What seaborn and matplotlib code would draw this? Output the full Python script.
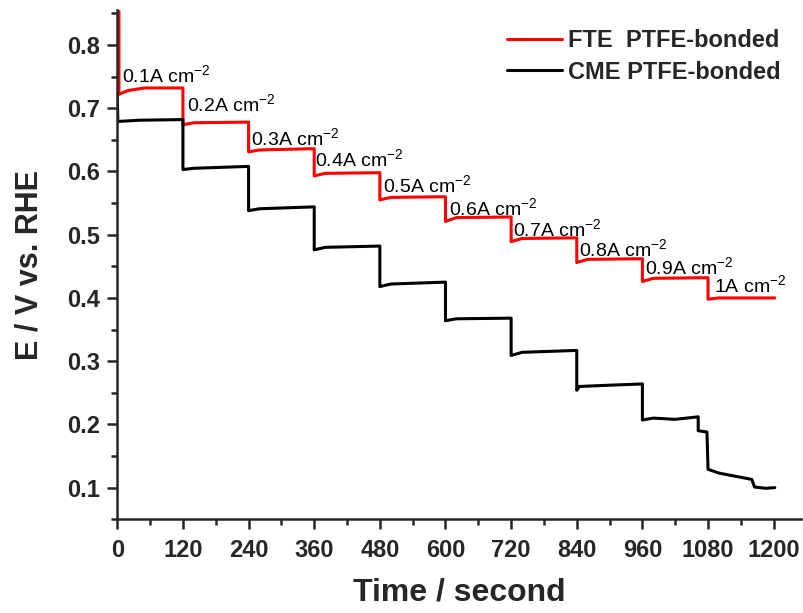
import pandas as pd
import matplotlib
matplotlib.use("Agg")
import matplotlib.pyplot as plt
import seaborn as sns
from matplotlib.ticker import MultipleLocator, FormatStrFormatter

# FTE PTFE-bonded electrode (red): time / s and potential / V vs RHE
t_fte = [3, 3, 20, 50, 120, 120, 140, 240, 240, 260, 360, 360, 380, 480, 480, 500,
         600, 600, 620, 720, 720, 740, 840, 840, 860, 960, 960, 980, 1080, 1080, 1100, 1202]
e_fte = [0.853, 0.722, 0.728, 0.732, 0.732, 0.674, 0.677, 0.678, 0.631, 0.634, 0.636, 0.593,
         0.597, 0.598, 0.555, 0.559, 0.560, 0.521, 0.527, 0.528, 0.489, 0.494, 0.495, 0.456,
         0.461, 0.462, 0.426, 0.431, 0.432, 0.398, 0.400, 0.400]

# CME PTFE-bonded electrode (black)
t_cme = [0, 1, 40, 120, 120, 140, 240, 240, 260, 360, 360, 380, 480, 480, 500, 600, 600,
         620, 720, 720, 740, 840, 840, 845, 900, 960, 960, 980, 1020, 1062, 1062, 1078,
         1080, 1100, 1160, 1165, 1185, 1202]
e_cme = [0.721, 0.679, 0.681, 0.682, 0.603, 0.605, 0.608, 0.538, 0.541, 0.544, 0.476, 0.480,
         0.482, 0.418, 0.422, 0.425, 0.364, 0.367, 0.368, 0.309, 0.314, 0.317, 0.254, 0.260,
         0.262, 0.264, 0.207, 0.210, 0.208, 0.212, 0.190, 0.188, 0.129, 0.123, 0.113, 0.101,
         0.099, 0.100]

# current density labels and where they sit (left edge, baseline)
labels = ["0.1A", "0.2A", "0.3A", "0.4A", "0.5A", "0.6A", "0.7A", "0.8A", "0.9A", "1A"]
label_t = [8, 128, 244, 361, 486, 607, 723, 845, 964, 1090]
label_e = [0.742, 0.695, 0.642, 0.608, 0.568, 0.531, 0.498, 0.466, 0.437, 0.409]

df = pd.concat([
    pd.DataFrame({"t": t_fte, "E": e_fte, "electrode": "FTE  PTFE-bonded"}),
    pd.DataFrame({"t": t_cme, "E": e_cme, "electrode": "CME PTFE-bonded"}),
])

sns.set_style("ticks")
plt.rcParams["font.family"] = ["Liberation Sans", "DejaVu Sans"]
plt.rcParams["mathtext.fontset"] = "custom"
plt.rcParams["mathtext.rm"] = "Liberation Sans"
plt.rcParams["mathtext.default"] = "regular"

fig = plt.figure(figsize=(8.04, 6.13), dpi=100)
ax = fig.add_axes([0.1459, 0.1529, 0.9963 - 0.1459, 0.9834 - 0.1529])

sns.lineplot(data=df, x="t", y="E", hue="electrode", sort=False, estimator=None,
             palette={"FTE  PTFE-bonded": "#ff0000", "CME PTFE-bonded": "#000000"},
             linewidth=2.2, ax=ax)

for lab, t, e in zip(labels, label_t, label_e):
    ax.text(t, e, lab + " cm$^{-2}$", fontsize=14, ha="left", va="baseline", color="black")

ax.set_xlim(0, 1250)
ax.set_ylim(0.05, 0.855)
ax.xaxis.set_minor_locator(MultipleLocator(60))
ax.set_xticks(range(0, 1201, 120))
ax.yaxis.set_minor_locator(MultipleLocator(0.05))
ax.set_yticks([0.1, 0.2, 0.3, 0.4, 0.5, 0.6, 0.7, 0.8])
ax.yaxis.set_major_formatter(FormatStrFormatter("%.1f"))

for s in ["top", "right"]:
    ax.spines[s].set_visible(False)
for s in ["left", "bottom"]:
    ax.spines[s].set_linewidth(1.8)
ax.tick_params(which="major", direction="out", length=7.5, width=1.8, labelsize=17, pad=5)
ax.tick_params(axis="x", which="major", pad=7)
ax.tick_params(which="minor", direction="out", length=4, width=1.8)
for lbl in ax.get_xticklabels() + ax.get_yticklabels():
    lbl.set_fontweight("bold")

ax.set_xlabel("Time / second", fontsize=23, fontweight="bold", labelpad=11)
ax.set_ylabel("E / V vs. RHE", fontsize=22, fontweight="bold", labelpad=16)

ax.legend(loc="upper left", bbox_to_anchor=(0.6306, 0.952), bbox_transform=fig.transFigure,
          frameon=False, borderpad=0, borderaxespad=0, handlelength=2.33, handletextpad=0.25,
          labelspacing=0.35, prop={"weight": "bold", "size": 17})

fig.savefig("out.png", dpi=100)
